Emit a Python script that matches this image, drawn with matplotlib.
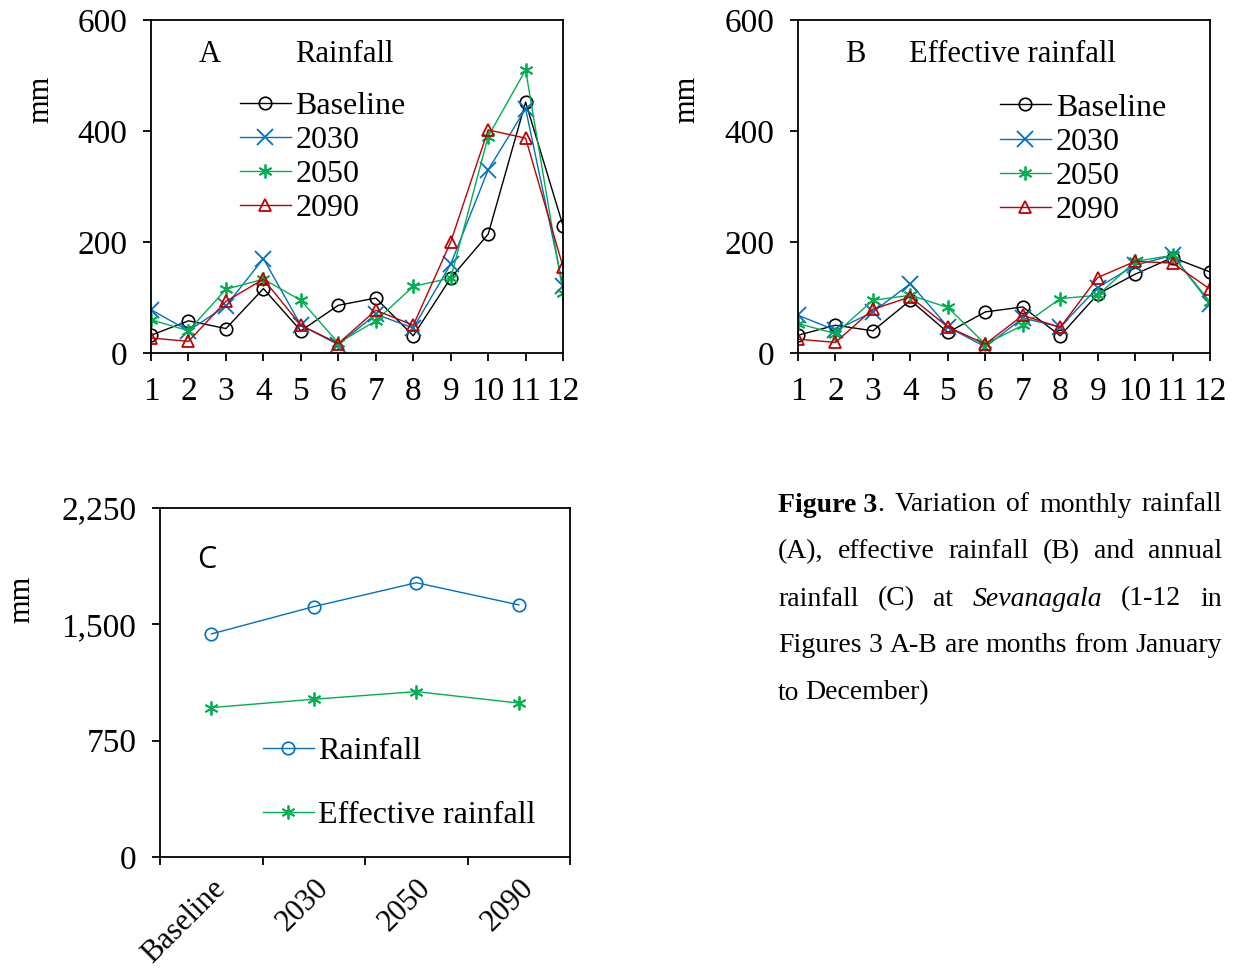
import matplotlib
matplotlib.use("Agg")
from matplotlib import pyplot as plt
from matplotlib.ticker import FuncFormatter

months = list(range(1, 13))
series_names = ["Baseline", "2030", "2050", "2090"]

# panel A - monthly rainfall (mm)
rain_base = [32, 58, 44, 116, 40, 86, 99, 31, 135, 214, 452, 229]
rain_2030 = [78, 40, 85, 170, 50, 15, 70, 45, 160, 330, 440, 120]
rain_2050 = [60, 40, 115, 133, 95, 18, 58, 120, 135, 390, 510, 108]
rain_2090 = [27, 21, 93, 133, 50, 17, 77, 50, 200, 402, 387, 155]

# panel B - monthly effective rainfall (mm)
eff_base = [32, 50, 40, 95, 37, 74, 83, 31, 106, 142, 172, 146]
eff_2030 = [68, 41, 74, 125, 47, 11, 63, 47, 118, 158, 176, 89]
eff_2050 = [53, 35, 95, 104, 82, 16, 50, 98, 104, 165, 176, 92]
eff_2090 = [25, 19, 79, 101, 47, 16, 68, 46, 136, 165, 162, 115]

# panel C - annual totals (mm)
periods = ["Baseline", "2030", "2050", "2090"]
annual_rain = [1438, 1614, 1768, 1625]
annual_eff = [963, 1017, 1066, 992]

BLACK = "black"
BLUE = "#0070C0"
GREEN = "#00B050"
RED = "#C00000"
ASTER = (6, 2, 0)

styles = [
    dict(color=BLACK, marker="o", ms=9, mfc="none", mec=BLACK, mew=1.2),
    dict(color=BLUE, marker="x", ms=11, mec=BLUE, mew=1.3),
    dict(color=GREEN, marker=ASTER, ms=10, mec=GREEN, mew=1.3),
    dict(color=RED, marker="^", ms=9, mfc="none", mec=RED, mew=1.3),
]

serif = "Liberation Serif"
plt.rcParams["font.family"] = serif

fig = plt.figure(figsize=(12.34, 9.69), dpi=100)


def style_axes(ax):
    for s in ax.spines.values():
        s.set_linewidth(1.3)
        s.set_color("black")
    ax.tick_params(direction="out", length=6, width=1.3, labelsize=24)
    ax.tick_params(axis="y", pad=11)


def monthly_panel(rect, data, letter, title, title_x, leg_anchor, label_xy):
    ax = fig.add_axes(rect)
    for vals, name, st in zip(data, series_names, styles):
        ax.plot(months, vals, lw=1.0, label=name, **st)
    ax.set_xlim(1, 12)
    ax.set_ylim(0, 600)
    ax.set_xticks(months)
    ax.set_yticks([0, 200, 400, 600])
    style_axes(ax)
    ax.tick_params(axis="x", pad=11)
    ax.text(letter[1], 0.895, letter[0], transform=ax.transAxes, fontsize=22,
            va="center")
    ax.text(title_x, 0.895, title, transform=ax.transAxes, fontsize=22,
            va="center")
    ax.legend(loc="upper left", bbox_to_anchor=leg_anchor, frameon=False,
              fontsize=23, handlelength=1.6, handletextpad=0.15,
              labelspacing=0.15, borderaxespad=0, borderpad=0)
    fig.text(label_xy[0], label_xy[1], "mm", rotation=90, fontsize=22,
             ha="center", va="center")
    return ax


monthly_panel([0.1224, 0.6357, 0.3339, 0.3437],
              [rain_base, rain_2030, rain_2050, rain_2090],
              ("A", 0.115), "Rainfall", 0.35, (0.215, 0.785), (0.033, 0.897))

monthly_panel([0.6467, 0.6357, 0.3339, 0.3437],
              [eff_base, eff_2030, eff_2050, eff_2090],
              ("B", 0.115), "Effective rainfall", 0.27, (0.49, 0.78),
              (0.557, 0.897))

# panel C
axc = fig.add_axes([0.1297, 0.1156, 0.3323, 0.3602])
xc = [i + 0.5 for i in range(len(periods))]
axc.plot(xc, annual_rain, color=BLUE, lw=1.0, marker="o", ms=9, mfc="none",
         mec=BLUE, mew=1.2, label="Rainfall")
axc.plot(xc, annual_eff, color=GREEN, lw=1.0, marker=ASTER, ms=10, mec=GREEN,
         mew=1.3, label="Effective rainfall")
axc.set_xlim(0, 4)
axc.set_ylim(0, 2250)
axc.set_yticks([0, 750, 1500, 2250])
axc.yaxis.set_major_formatter(FuncFormatter(lambda v, p: "{:,.0f}".format(v)))
axc.set_xticks(range(5))
axc.set_xticklabels([])
axc.set_xticks(xc, minor=True)
axc.set_xticklabels(periods, minor=True, rotation=45, ha="right",
                    rotation_mode="anchor")
style_axes(axc)
axc.tick_params(axis="x", which="minor", length=0, labelsize=22, pad=12)
axc.text(0.09, 0.851, "C", transform=axc.transAxes, fontsize=22,
         family="Open Sans", va="center")
axc.legend(loc="upper left", bbox_to_anchor=(0.25, 0.345), frameon=False,
           fontsize=23, handlelength=1.6, handletextpad=0.15, labelspacing=1.1,
           borderaxespad=0, borderpad=0)
fig.text(0.018, 0.381, "mm", rotation=90, fontsize=22, ha="center",
         va="center")

# caption, justified by hand
cap_lines = [
    [[("Figure 3", "bold"), (".", "normal")], [("Variation", "normal")],
     [("of", "normal")], [("monthly", "normal")], [("rainfall", "normal")]],
    [[("(A),", "normal")], [("effective", "normal")], [("rainfall", "normal")],
     [("(B)", "normal")], [("and", "normal")], [("annual", "normal")]],
    [[("rainfall", "normal")], [("(C)", "normal")], [("at", "normal")],
     [("Sevanagala", "italic")], [("(1-12", "normal")], [("in", "normal")]],
    [[("Figures", "normal")], [("3", "normal")], [("A-B", "normal")],
     [("are", "normal")], [("months", "normal")], [("from", "normal")],
     [("January", "normal")]],
    [[("to", "normal")], [("December)", "normal")]],
]
cap_x0, cap_x1 = 778, 1222
cap_y = [505, 552, 599, 646, 693]
cap_size = 20

fig.canvas.draw()
renderer = fig.canvas.get_renderer()
H = fig.bbox.height


def seg_text(x, y, txt, kind):
    kw = dict(fontsize=cap_size, va="center", ha="left")
    if kind == "bold":
        kw["weight"] = "bold"
    if kind == "italic":
        kw["style"] = "italic"
    t = fig.text(x / 1234, 1 - y / H, txt, **kw)
    return t, t.get_window_extent(renderer).width


for li, words in enumerate(cap_lines):
    y = cap_y[li]
    widths = []
    for w in words:
        total = 0
        for txt, kind in w:
            t, wd = seg_text(0, y, txt, kind)
            t.remove()
            total += wd
        widths.append(total)
    if li == len(cap_lines) - 1:
        gap = 6
    else:
        gap = (cap_x1 - cap_x0 - sum(widths)) / (len(words) - 1)
    x = cap_x0
    for w, wd in zip(words, widths):
        xx = x
        for txt, kind in w:
            t, sw = seg_text(xx, y, txt, kind)
            xx += sw
        x += wd + gap

fig.savefig("out.png", dpi=100)
